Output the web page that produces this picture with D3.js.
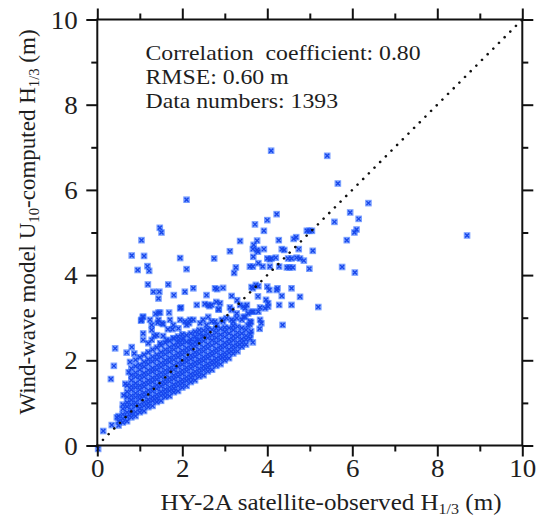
<!DOCTYPE html>
<html>
<head>
<meta charset="utf-8">
<script src="https://cdn.jsdelivr.net/npm/d3@7"></script>
<style>
  html, body { margin: 0; padding: 0; background: #fff; }
  svg { display: block; }
  text { font-family: "Liberation Serif", "Times New Roman", serif; fill: #1e1e1e; }
</style>
</head>
<body>
<div id="chart"></div>
<script>
// Saturated core of the cloud, read column by column (x in m, then the y values in that column)
const coreX = [0.5, 0.6, 0.7, 0.8, 0.9, 1.0, 1.1, 1.2, 1.3, 1.4, 1.5, 1.6, 1.7, 1.8, 1.9, 2.0,
               2.1, 2.2, 2.3, 2.4, 2.5, 2.6, 2.7, 2.8, 2.9, 3.0, 3.1, 3.2, 3.3, 3.4, 3.5, 3.6];
const coreY = [
    [0.47, 0.57, 0.69],
    [0.54, 0.63, 0.73, 0.86, 0.96],
    [0.57, 0.68, 0.78, 0.91, 1.01, 1.14, 1.26, 1.41],
    [0.66, 0.74, 0.84, 0.96, 1.07, 1.17, 1.31, 1.40, 1.53, 1.65, 1.81],
    [0.69, 0.79, 0.92, 1.01, 1.13, 1.23, 1.36, 1.46, 1.61, 1.71, 1.86, 2.01],
    [0.78, 0.87, 0.96, 1.09, 1.18, 1.31, 1.41, 1.54, 1.64, 1.78, 1.89, 2.07],
    [0.81, 0.93, 1.02, 1.15, 1.24, 1.38, 1.47, 1.61, 1.70, 1.85, 1.96, 2.13],
    [0.90, 0.99, 1.08, 1.21, 1.30, 1.44, 1.53, 1.67, 1.77, 1.91, 2.02, 2.19],
    [0.93, 1.05, 1.14, 1.27, 1.36, 1.49, 1.59, 1.73, 1.82, 1.97, 2.08, 2.25],
    [1.02, 1.11, 1.20, 1.33, 1.42, 1.55, 1.65, 1.78, 1.88, 2.02, 2.13, 2.30],
    [1.05, 1.17, 1.26, 1.39, 1.48, 1.61, 1.71, 1.84, 1.94, 2.08, 2.19, 2.35],
    [1.14, 1.23, 1.32, 1.45, 1.54, 1.67, 1.77, 1.90, 2.00, 2.14, 2.25, 2.41],
    [1.16, 1.28, 1.37, 1.50, 1.59, 1.73, 1.82, 1.96, 2.06, 2.20, 2.31, 2.46],
    [1.25, 1.34, 1.43, 1.56, 1.65, 1.78, 1.88, 2.01, 2.11, 2.25, 2.36, 2.51],
    [1.28, 1.40, 1.49, 1.62, 1.71, 1.84, 1.94, 2.07, 2.17, 2.31, 2.41, 2.56],
    [1.36, 1.46, 1.55, 1.68, 1.77, 1.90, 2.00, 2.13, 2.23, 2.37, 2.47, 2.61],
    [1.40, 1.52, 1.61, 1.74, 1.83, 1.96, 2.05, 2.19, 2.29, 2.43, 2.59],
    [1.49, 1.59, 1.68, 1.81, 1.90, 2.03, 2.12, 2.26, 2.36, 2.50, 2.63],
    [1.53, 1.65, 1.74, 1.87, 1.96, 2.09, 2.19, 2.33, 2.43, 2.56, 2.67],
    [1.62, 1.71, 1.80, 1.93, 2.02, 2.15, 2.25, 2.39, 2.49, 2.61, 2.71],
    [1.65, 1.77, 1.86, 1.99, 2.08, 2.21, 2.31, 2.45, 2.57, 2.70],
    [1.74, 1.83, 1.92, 2.05, 2.14, 2.28, 2.38, 2.52, 2.62, 2.73],
    [1.78, 1.90, 1.99, 2.12, 2.21, 2.35, 2.47, 2.59, 2.72],
    [1.87, 1.96, 2.05, 2.18, 2.27, 2.41, 2.53, 2.65, 2.75],
    [1.91, 2.03, 2.12, 2.25, 2.34, 2.48, 2.60, 2.74],
    [2.00, 2.09, 2.18, 2.31, 2.41, 2.55, 2.67, 2.77],
    [2.05, 2.17, 2.26, 2.39, 2.49, 2.63, 2.76],
    [2.16, 2.25, 2.34, 2.47, 2.57, 2.71, 2.81],
    [2.21, 2.33, 2.42, 2.55, 2.65, 2.79],
    [2.32, 2.41, 2.50, 2.63, 2.76],
    [2.37, 2.49, 2.58, 2.71],
    [2.51, 2.61]
];

// Looser points around the core
const edgePoints = [
    [0.02, -0.08], [0.14, 0.34], [0.34, 0.48], [0.46, 0.66], [0.32, 1.56], [0.39, 1.87],
    [0.42, 2.28], [0.69, 2.18], [0.81, 2.31], [1.08, 2.63], [1.28, 2.71], [1.40, 2.59],
    [1.28, 2.48], [1.08, 2.48], [1.20, 2.40], [1.48, 2.40], [1.63, 2.48], [1.79, 2.52],
    [1.91, 2.48], [2.02, 2.52], [2.18, 2.44], [2.34, 2.48], [2.49, 2.56], [1.34, 2.57],
    [1.55, 2.57], [1.66, 2.73], [1.77, 2.73], [1.91, 2.75], [2.10, 2.83], [1.79, 2.83],
    [1.52, 2.87], [1.28, 2.83], [1.42, 2.88], [1.55, 2.85], [1.04, 2.95], [1.08, 3.02],
    [1.24, 2.95], [1.44, 2.95], [1.71, 2.95], [1.95, 2.95], [2.06, 2.91], [2.18, 2.95],
    [2.26, 2.95], [2.16, 2.87], [2.42, 2.87], [2.57, 2.83], [2.69, 2.91], [2.81, 2.83],
    [2.96, 2.91], [3.16, 2.95], [3.28, 2.99], [3.44, 3.02], [3.55, 3.10], [2.49, 2.95],
    [2.61, 3.02], [2.77, 2.91], [2.93, 2.95], [3.04, 2.99], [3.20, 2.91], [3.40, 2.95],
    [3.48, 3.02], [3.59, 2.91], [3.59, 2.84], [3.62, 2.90], [3.82, 2.74], [3.86, 2.87],
    [3.83, 2.95], [4.36, 2.83], [1.44, 3.12], [1.48, 3.12], [1.69, 3.12], [1.37, 3.09],
    [1.95, 3.22], [2.34, 3.30], [2.53, 3.32], [2.61, 3.30], [2.69, 3.30], [2.85, 3.20],
    [2.86, 3.19], [3.12, 3.24], [3.16, 3.18], [3.28, 3.10], [3.36, 3.30], [3.44, 3.26],
    [3.48, 3.22], [3.52, 3.30], [3.63, 3.14], [3.67, 3.14], [3.79, 3.14], [2.80, 3.37],
    [2.64, 3.27], [2.89, 3.34], [3.29, 3.41], [0.62, 1.18], [0.66, 1.45], [0.74, 1.72],
    [0.77, 1.96], [0.87, 2.16], [3.66, 2.42], [3.62, 2.68], [3.54, 2.82]
];

// Scattered points well away from the cloud
const outlierPoints = [
    [4.09, 6.92], [5.41, 6.80], [5.66, 6.15], [6.38, 5.69], [2.10, 5.77], [4.22, 5.43],
    [5.95, 5.47], [4.00, 5.29], [3.71, 5.19], [5.58, 5.25], [6.15, 5.32], [1.47, 5.11],
    [1.51, 5.00], [3.92, 5.04], [4.93, 5.04], [4.99, 5.04], [5.05, 5.04], [6.10, 5.07],
    [6.05, 5.00], [8.70, 4.93], [1.04, 4.82], [3.36, 4.80], [3.76, 4.81], [4.27, 4.82],
    [4.62, 4.85], [4.68, 4.89], [5.87, 4.82], [3.68, 4.71], [3.76, 4.59], [3.66, 4.61],
    [3.92, 4.61], [3.78, 4.55], [4.34, 4.61], [4.40, 4.59], [4.74, 4.61], [5.07, 4.57],
    [3.12, 4.56], [0.81, 4.46], [1.10, 4.45], [1.95, 4.40], [2.75, 4.39], [3.67, 4.43],
    [4.00, 4.39], [4.06, 4.37], [4.10, 4.39], [4.20, 4.41], [4.49, 4.39], [4.57, 4.39],
    [4.69, 4.41], [4.77, 4.39], [4.86, 4.34], [3.79, 4.28], [3.59, 4.20], [3.66, 4.20],
    [3.89, 4.20], [4.06, 4.20], [4.28, 4.20], [4.46, 4.18], [4.52, 4.18], [4.60, 4.18],
    [4.99, 4.15], [5.76, 4.19], [6.06, 4.06], [0.95, 4.12], [1.18, 4.21], [1.22, 4.10],
    [2.10, 4.14], [3.26, 4.18], [3.22, 4.05], [1.19, 3.78], [1.67, 3.78], [2.26, 3.69],
    [2.77, 3.69], [2.82, 3.67], [2.96, 3.70], [1.32, 3.61], [1.46, 3.61], [2.06, 3.61],
    [3.63, 3.72], [3.73, 3.77], [3.79, 3.74], [3.66, 3.69], [4.00, 3.73], [4.05, 3.65],
    [4.22, 3.65], [4.24, 3.69], [4.57, 3.69], [1.80, 3.53], [2.57, 3.53], [3.16, 3.51],
    [3.78, 3.50], [4.34, 3.51], [4.77, 3.49], [1.44, 3.45], [3.97, 3.42], [4.02, 3.34],
    [4.02, 3.26], [3.95, 3.22], [3.83, 3.24], [4.28, 3.30], [4.57, 3.30], [5.20, 3.25],
    [1.97, 3.24], [1.03, 2.93], [1.07, 3.02]
];

const statLines = ["Correlation  coefficient: 0.80", "RMSE: 0.60 m", "Data numbers: 1393"];
const majorTicks = [0, 2, 4, 6, 8, 10];
const minorTicks = [1, 3, 5, 7, 9];

const width = 546, height = 518;
const svg = d3.select("#chart").append("svg")
    .attr("width", width)
    .attr("height", height);

// the scan is soft, so the marks get a light blur
svg.append("defs").append("filter")
    .attr("id", "soft")
    .attr("x", "-5%").attr("y", "-5%").attr("width", "110%").attr("height", "110%")
    .append("feGaussianBlur")
    .attr("stdDeviation", 0.65);

const x = d3.scaleLinear().domain([0, 10]).range([97.3, 522.3]);
const y = d3.scaleLinear().domain([0, 10]).range([445.5, 19.5]);

const stretch = 1.08; // glyphs in the figure are a little wide

// points
const points = [];
coreX.forEach((cx, i) => coreY[i].forEach(cy => points.push([cx, cy])));
edgePoints.forEach(p => points.push(p));
outlierPoints.forEach(p => points.push(p));

const marks = svg.append("g").attr("filter", "url(#soft)");

// halo under every cross, then the crosses
marks.append("g").selectAll("rect")
    .data(points)
    .join("rect")
    .attr("x", d => x(d[0]) - 3.3)
    .attr("y", d => y(d[1]) - 3.3)
    .attr("width", 6.6).attr("height", 6.6)
    .attr("fill", "#2a66ff")
    .attr("fill-opacity", 0.62);

marks.append("g").selectAll("path")
    .data(points)
    .join("path")
    .attr("transform", d => `translate(${x(d[0])},${y(d[1])})`)
    .attr("d", "M-2,-2L2,2M-2,2L2,-2")
    .attr("stroke", "#1444ea")
    .attr("stroke-width", 1.3)
    .attr("fill", "none");

// 1:1 dotted line
svg.append("line")
    .attr("x1", x(0)).attr("y1", y(0))
    .attr("x2", x(10)).attr("y2", y(10))
    .attr("stroke", "#111")
    .attr("stroke-width", 2.6)
    .attr("stroke-linecap", "round")
    .attr("stroke-dasharray", "0.01 8");

// frame
svg.append("rect")
    .attr("x", x(0)).attr("y", y(10))
    .attr("width", x(10) - x(0)).attr("height", y(0) - y(10))
    .attr("fill", "none")
    .attr("stroke", "#111")
    .attr("stroke-width", 2);

// ticks on all four sides, outward
function addAxis(axisFn, scale, transform, values, size) {
    const g = svg.append("g")
        .attr("transform", transform)
        .call(axisFn(scale).tickValues(values).tickSize(size).tickSizeOuter(0).tickFormat(""));
    g.select(".domain").remove();
    g.selectAll("line").attr("stroke", "#111").attr("stroke-width", 2);
    return g;
}

const bottom = addAxis(d3.axisBottom, x, `translate(0,${y(0)})`, majorTicks, 11);
addAxis(d3.axisBottom, x, `translate(0,${y(0)})`, minorTicks, 6);
addAxis(d3.axisTop, x, `translate(0,${y(10)})`, majorTicks, 11);
addAxis(d3.axisTop, x, `translate(0,${y(10)})`, minorTicks, 6);
const left = addAxis(d3.axisLeft, y, `translate(${x(0)},0)`, majorTicks, 11);
addAxis(d3.axisLeft, y, `translate(${x(0)},0)`, minorTicks, 6);
addAxis(d3.axisRight, y, `translate(${x(10)},0)`, majorTicks, 11);
addAxis(d3.axisRight, y, `translate(${x(10)},0)`, minorTicks, 6);

// tick labels
bottom.selectAll(".tick text")
    .text(d => d)
    .attr("y", null).attr("dy", null)
    .attr("transform", `translate(0,31.5) scale(${stretch},1)`)
    .attr("text-anchor", "middle")
    .style("font-size", "25px")
    .attr("fill", "#1e1e1e");

left.selectAll(".tick text")
    .text(d => d)
    .attr("x", null).attr("dy", null)
    .attr("transform", `translate(-19.5,8.5) scale(${stretch},1)`)
    .attr("text-anchor", "end")
    .style("font-size", "25px")
    .attr("fill", "#1e1e1e");

// statistics
svg.append("g")
    .selectAll("text")
    .data(statLines)
    .join("text")
    .attr("transform", (d, i) => `translate(145.5,${59.5 + i * 24}) scale(${stretch},1)`)
    .style("font-size", "22px")
    .style("white-space", "pre")
    .text(d => d);

// x axis title
const xt = svg.append("text")
    .attr("transform", `translate(331,510) scale(${stretch},1)`)
    .attr("text-anchor", "middle")
    .style("font-size", "23.2px");
xt.append("tspan").text("HY-2A satellite-observed H");
xt.append("tspan").attr("dy", "0.28em").style("font-size", "0.64em").text("1/3");
xt.append("tspan").attr("dy", "-0.18em").text(" (m)");

// y axis title
const yt = svg.append("text")
    .attr("transform", "translate(35,222) rotate(-90)")
    .attr("text-anchor", "middle")
    .style("font-size", "23px");
yt.append("tspan").text("Wind-wave model U");
yt.append("tspan").attr("dy", "0.28em").style("font-size", "0.64em").text("10");
yt.append("tspan").attr("dy", "-0.18em").text("-computed H");
yt.append("tspan").attr("dy", "0.28em").style("font-size", "0.64em").text("1/3");
yt.append("tspan").attr("dy", "-0.18em").text(" (m)");
</script>
</body>
</html>
